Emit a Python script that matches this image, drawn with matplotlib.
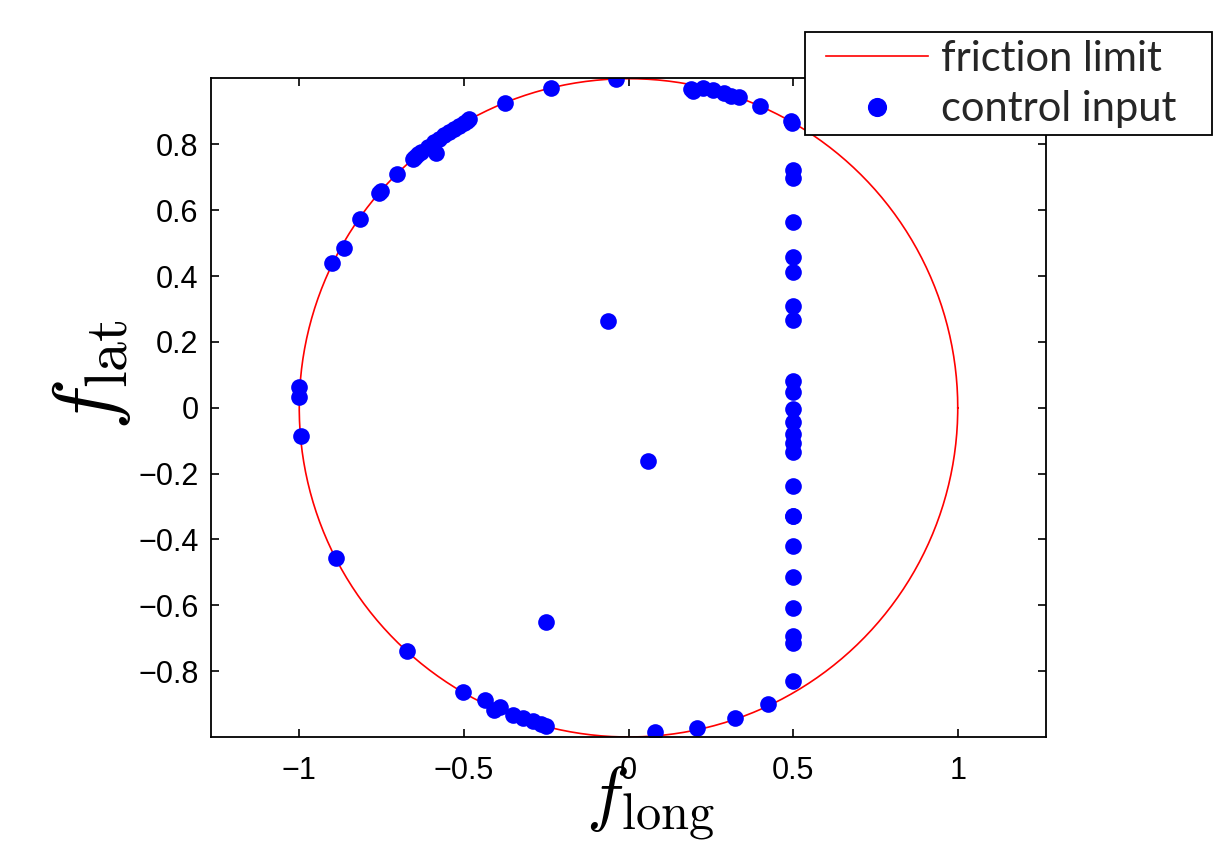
import numpy as np
import matplotlib
matplotlib.use("Agg")
import matplotlib.pyplot as plt
from matplotlib.patches import Rectangle

# control input points (f_long, f_lat)
f_long = [
    -0.037, -0.236, -0.375,
    -0.483, -0.49, -0.50, -0.515, -0.53, -0.545, -0.56, -0.575, -0.59, -0.61, -0.63, -0.649,
    -0.584, -0.655, -0.639, -0.703, -0.758, -0.752, -0.814, -0.864, -0.899,
    -1.0, -1.0, -0.996,
    -0.889, -0.672, -0.503, -0.437, -0.407, -0.389, -0.351, -0.321, -0.290, -0.265, -0.252,
    -0.250, -0.062, 0.060,
    0.079, 0.208, 0.322, 0.425,
    0.190, 0.196, 0.226, 0.256, 0.291, 0.312, 0.337, 0.399, 0.494, 0.497,
    0.5, 0.5, 0.5, 0.5, 0.5, 0.5, 0.5, 0.5,
    0.5, 0.5, 0.5, 0.5, 0.5, 0.5, 0.5,
    0.5, 0.5, 0.5, 0.5, 0.5, 0.5, 0.5, 0.5,
]
f_lat = [
    1.0, 0.971, 0.927,
    0.876, 0.872, 0.866, 0.857, 0.848, 0.838, 0.828, 0.818, 0.807, 0.792, 0.777, 0.761,
    0.773, 0.756, 0.770, 0.709, 0.652, 0.659, 0.574, 0.487, 0.440,
    0.063, 0.034, -0.085,
    -0.456, -0.740, -0.863, -0.887, -0.919, -0.908, -0.932, -0.942, -0.952, -0.960, -0.967,
    -0.652, 0.264, -0.163,
    -0.984, -0.972, -0.942, -0.901,
    0.970, 0.962, 0.973, 0.967, 0.955, 0.947, 0.943, 0.917, 0.871, 0.864,
    0.724, 0.697, 0.565, 0.459, 0.412, 0.310, 0.267, 0.083,
    0.048, -0.003, -0.042, -0.079, -0.107, -0.133, -0.236,
    -0.330, -0.421, -0.514, -0.608, -0.694, -0.714, -0.831, -0.330,
]

x_ticks = [-1, -0.5, 0, 0.5, 1]
x_tick_labels = ["\u22121", "\u22120.5", "0", "0.5", "1"]
y_ticks = [-0.8, -0.6, -0.4, -0.2, 0, 0.2, 0.4, 0.6, 0.8]
y_tick_labels = ["\u22120.8", "\u22120.6", "\u22120.4", "\u22120.2", "0", "0.2", "0.4", "0.6", "0.8"]

plt.rcParams["font.family"] = ["Liberation Sans", "DejaVu Sans"]
plt.rcParams["mathtext.fontset"] = "cm"

W, H = 1226, 841
fig = plt.figure(figsize=(W / 100, H / 100), dpi=100)
ax = fig.add_axes([211 / W, 1 - 737 / H, (1046 - 211) / W, (737 - 78) / H])

theta = np.linspace(0, 2 * np.pi, 400)
ax.plot(np.cos(theta), np.sin(theta), color="red", lw=1.2, label="friction limit")
ax.plot(f_long, f_lat, "o", color="blue", markersize=12, markeredgewidth=0, label="control input")

ax.set_xlim(-1.268, 1.268)
ax.set_ylim(-1.0, 1.002)
ax.set_xticks(x_ticks)
ax.set_xticklabels(x_tick_labels)
ax.set_yticks(y_ticks)
ax.set_yticklabels(y_tick_labels)
ax.tick_params(direction="in", length=6, width=1.2, labelsize=22,
               top=True, right=True, pad=9)
ax.tick_params(axis="x", pad=14)
for sp in ax.spines.values():
    sp.set_linewidth(1.3)

ax.set_xlabel(r"$f_{\rm long}$", fontsize=52)
ax.xaxis.set_label_coords(0.527, -0.042)
ax.set_ylabel(r"$f_{\rm lat}$", fontsize=62)
ax.yaxis.set_label_coords(-0.094, 0.55)

# legend box drawn separately (MATLAB style has extra right padding)
box = Rectangle((805 / W, 1 - 135 / H), 407 / W, 103 / H, transform=fig.transFigure,
                facecolor="white", edgecolor="black", lw=1.3, zorder=4)
fig.add_artist(box)
handles, labels = ax.get_legend_handles_labels()
leg = fig.legend(handles, labels, loc="upper left", bbox_to_anchor=(826 / W, 1 - 40 / H),
                 bbox_transform=fig.transFigure, frameon=False,
                 prop={"family": "Lato", "size": 30},
                 handlelength=2.45, handletextpad=0.3, borderpad=0,
                 labelspacing=0.3, borderaxespad=0, markerscale=1.15)
leg.set_zorder(5)
for t in leg.get_texts():
    t.set_color("#262626")

fig.savefig("out.png", dpi=100)
